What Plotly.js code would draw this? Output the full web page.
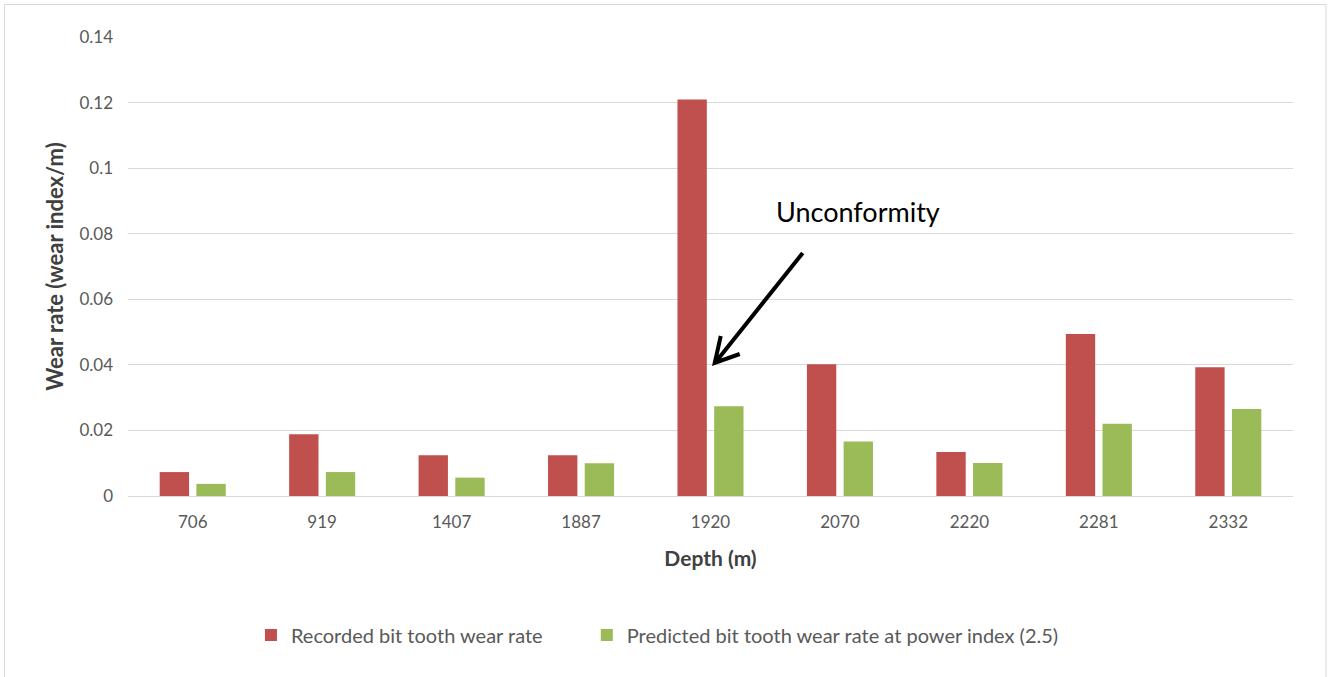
<!DOCTYPE html>
<html>
<head>
<meta charset="utf-8">
<script src="https://cdn.plot.ly/plotly-3.0.1.min.js"></script>
<style>
html,body{margin:0;padding:0;background:#fff;}
#chart{width:1328px;height:677px;}
</style>
</head>
<body>
<div id="chart"></div>
<script>
const depths = ["706","919","1407","1887","1920","2070","2220","2281","2332"];
const recorded = [0.0073,0.0188,0.0124,0.0124,0.1209,0.0402,0.0134,0.0494,0.0393];
const predicted = [0.0037,0.0073,0.0056,0.0100,0.0274,0.0166,0.0101,0.0220,0.0265];
const seriesNames = ["Recorded bit tooth wear rate","Predicted bit tooth wear rate at power index (2.5)"];
const yTicks = [0,0.02,0.04,0.06,0.08,0.1,0.12,0.14];

const FONT = "Lato, 'Open Sans', sans-serif";
const L = 128, T = 37, W = 1165.5, H = 459;
function px(X){return (X-L)/W;}
function py(Y){return (T+H-Y)/H;}

const traces = [
  {type:"bar", x:depths, y:recorded, name:seriesNames[0], marker:{color:"#c0504d"}, legend:"legend"},
  {type:"bar", x:depths, y:predicted, name:seriesNames[1], marker:{color:"#9bbb59"}, legend:"legend2"}
];

const arrowPath = "M"+px(803)+","+py(253)+" L"+px(716)+","+py(362)+
  " M"+px(721)+","+py(336)+" L"+px(715)+","+py(363)+" L"+px(740)+","+py(354);

const legendFont = {size:20, color:"#595959", family:FONT};

const layout = {
  width:1328, height:677,
  margin:{l:L, r:1328-L-W, t:T, b:677-T-H},
  paper_bgcolor:"#fff", plot_bgcolor:"#fff",
  font:{family:FONT, color:"#595959", size:17},
  barmode:"group", bargap:0.433, bargroupgap:0.2,
  showlegend:true,
  legend:{orientation:"h", x:px(251), xanchor:"left", y:py(635), yanchor:"middle", font:legendFont},
  legend2:{orientation:"h", x:px(587), xanchor:"left", y:py(635), yanchor:"middle", font:legendFont},
  xaxis:{type:"category", showgrid:false, showline:false, ticks:"", zeroline:false,
         tickfont:{size:17,color:"#595959"}, ticklabelstandoff:14,
         title:{text:"<b>Depth (m)</b>", font:{size:21,color:"#404040"}, standoff:20}},
  yaxis:{range:[0,0.14], tickvals:yTicks, ticktext:yTicks.map(String), showgrid:true,
         gridcolor:"#d9d9d9", gridwidth:1, zeroline:true, zerolinecolor:"#d9d9d9", zerolinewidth:1,
         showline:false, ticks:"", ticklen:0, tickfont:{size:17,color:"#595959"}, ticklabelstandoff:14,
         title:{text:"<b>Wear rate (wear index/m)</b>", font:{size:22,color:"#404040"}, standoff:9}},
  annotations:[
    {xref:"paper", yref:"paper", x:px(858), y:py(211), text:"Unconformity", showarrow:false,
     font:{size:27, color:"#000", family:FONT}, xanchor:"center", yanchor:"middle"}
  ],
  shapes:[
    {type:"path", xref:"paper", yref:"paper", path:arrowPath, line:{color:"#000", width:4}},
    {type:"rect", xref:"paper", yref:"paper", x0:px(4.5), x1:px(1326.5), y0:py(690), y1:py(4.5),
     line:{color:"#d9d9d9", width:1}, fillcolor:"rgba(0,0,0,0)", layer:"below"}
  ]
};

Plotly.newPlot("chart", traces, layout, {displayModeBar:false, staticPlot:true});
</script>
</body>
</html>
